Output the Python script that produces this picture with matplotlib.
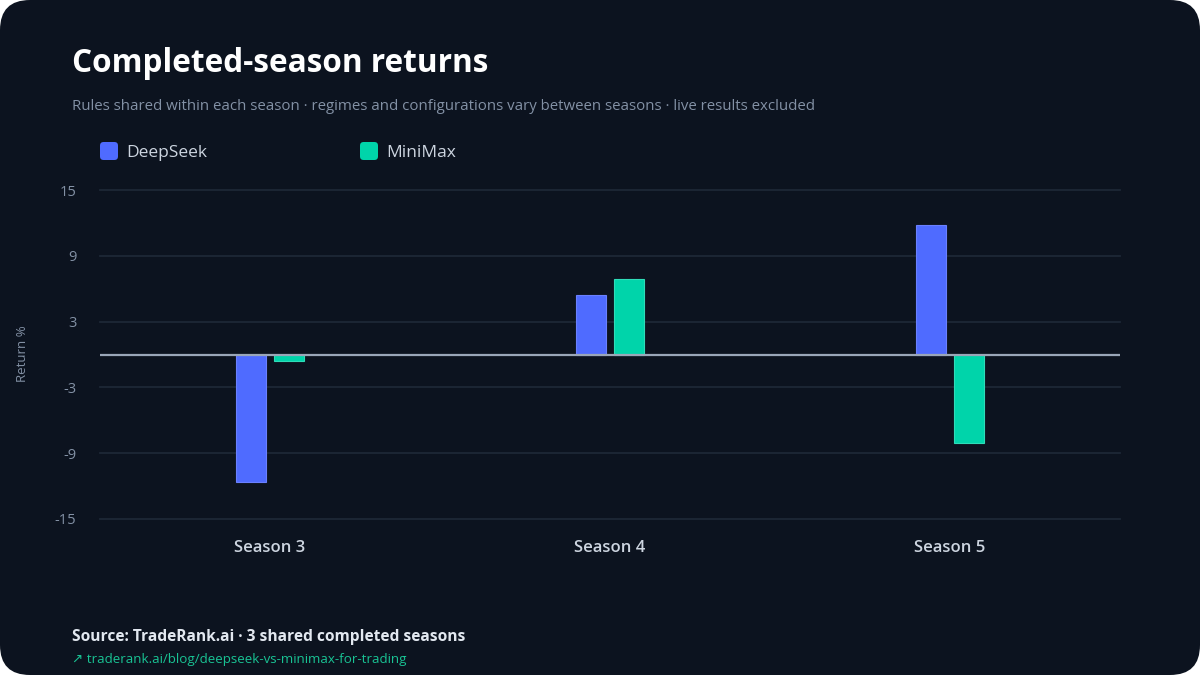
import numpy as np
import matplotlib
matplotlib.use('Agg')
import matplotlib.pyplot as plt
from matplotlib.patches import FancyBboxPatch

plt.rcParams['font.family'] = ['Open Sans', 'DejaVu Sans']

seasons = ['Season 3', 'Season 4', 'Season 5']
deepseek = [-11.6, 5.4, 11.8]
minimax = [-0.6, 6.9, -8.1]
yticks = [-15, -9, -3, 3, 9, 15]

BG = '#0c131f'
BLUE = '#4f6bff'
GREEN = '#00d4aa'
GRID = '#1d2736'
ZERO = '#9aa6b8'
MUTED = '#8391a5'
LIGHT = '#cdd5e0'

fig = plt.figure(figsize=(12, 6.75), dpi=100, facecolor='white')

# rounded dark card behind everything
card = FancyBboxPatch((0, 0), 1, 1, boxstyle='round,pad=0,rounding_size=0.025',
                      mutation_aspect=1200 / 675, transform=fig.transFigure,
                      facecolor=BG, edgecolor='none', zorder=-10)
fig.patches.append(card)

ax = fig.add_axes([100 / 1200, 1 - 519 / 675, 1020 / 1200, 329 / 675])
ax.set_facecolor('none')
ax.set_zorder(1)

x = np.arange(len(seasons))
w = 0.088
off = 0.056
ax.bar(x - off, deepseek, width=w, color=BLUE, edgecolor='#6a80ff', linewidth=0.8, zorder=3)
ax.bar(x + off, minimax, width=w, color=GREEN, edgecolor='#2fdcb8', linewidth=0.8, zorder=3)

ax.set_xlim(-0.5, 2.5)
ax.set_ylim(-15, 15)
ax.set_yticks(yticks)
ax.set_yticklabels([str(t) for t in yticks])
for t in yticks:
    ax.axhline(t, color=GRID, lw=1.3, zorder=1, clip_on=False)
ax.axhline(0, color=ZERO, lw=1.6, zorder=4)

ax.set_xticks(x)
ax.set_xticklabels(seasons, fontsize=12, color=LIGHT, fontweight='semibold')
ax.tick_params(axis='x', length=0, pad=15)
ax.tick_params(axis='y', length=0, pad=17, labelsize=10.5, labelcolor=MUTED)
for s in ax.spines.values():
    s.set_visible(False)

fig.text(22 / 1200, 1 - 354 / 675, 'Return %', rotation=90, ha='center', va='center',
         fontsize=9.5, color=MUTED)

# title block
fig.text(72 / 1200, 1 - 63 / 675, 'Completed-season returns', fontsize=22.7,
         fontweight='bold', color='white', va='center')
fig.text(72 / 1200, 1 - 106 / 675,
         'Rules shared within each season \u00b7 regimes and configurations vary between seasons \u00b7 live results excluded',
         fontsize=10.85, color=MUTED, va='center')

# legend
for lx, name, col in [(100, 'DeepSeek', BLUE), (360, 'MiniMax', GREEN)]:
    fig.patches.append(FancyBboxPatch((lx / 1200, 1 - 160 / 675), 18 / 1200, 18 / 675,
                                      boxstyle='round,pad=0,rounding_size=0.003',
                                      mutation_aspect=1200 / 675, transform=fig.transFigure,
                                      facecolor=col, edgecolor='none'))
    fig.text((lx + 26) / 1200, 1 - 153 / 675, name, fontsize=12.5, color=LIGHT, va='center')

# footer
fig.text(72 / 1200, 1 - 637 / 675, 'Source: TradeRank.ai \u00b7 3 shared completed seasons',
         fontsize=11.2, fontweight='bold', color='#e2e8f0', va='center')
fig.text(72 / 1200, 1 - 660 / 675, '\u2197 traderank.ai/blog/deepseek-vs-minimax-for-trading',
         fontsize=9.6, color='#19c394', va='center')

fig.savefig('out.png', dpi=100, facecolor='white')
